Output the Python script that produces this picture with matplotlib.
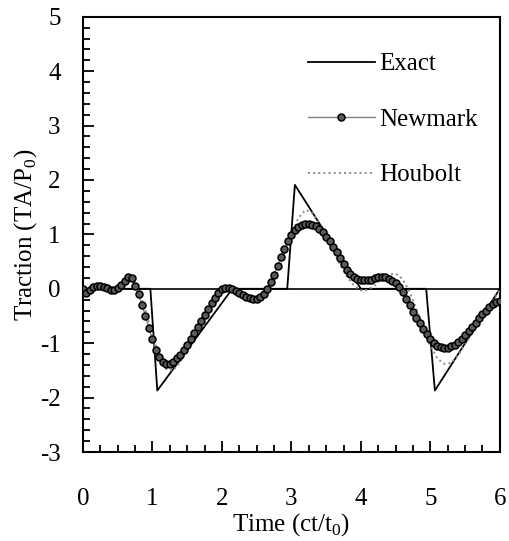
import numpy as np
import matplotlib
matplotlib.use("Agg")
import matplotlib.pyplot as plt
from matplotlib.ticker import MultipleLocator

plt.rcParams['font.family'] = ['Liberation Serif', 'DejaVu Serif']
plt.rcParams['mathtext.fontset'] = 'custom'
plt.rcParams['mathtext.rm'] = 'Liberation Serif'
plt.rcParams['axes.unicode_minus'] = False

# exact solution (corner points)
t_exact = [0, 0.97, 1.07, 2.15, 2.94, 3.05, 4.0, 4.94, 5.065, 6.0]
y_exact = [0, 0, -1.87, 0, 0, 1.91, 0, 0, -1.87, 0]

# Newmark, every 0.05
t_newmark = np.round(np.arange(0, 6.0001, 0.05), 2)
y_newmark = [
    0.00, -0.08, -0.03, 0.03, 0.06, 0.06, 0.04, 0.01, -0.02, -0.02,
    0.01, 0.07, 0.15, 0.21, 0.19, 0.06, -0.10, -0.30, -0.50, -0.72,
    -0.93, -1.12, -1.26, -1.35, -1.39, -1.38, -1.34, -1.28, -1.21, -1.12,
    -1.03, -0.92, -0.82, -0.71, -0.60, -0.49, -0.38, -0.27, -0.17, -0.08,
    -0.01, 0.02, 0.02, 0.00, -0.04, -0.08, -0.12, -0.15, -0.17, -0.18,
    -0.18, -0.15, -0.09, 0.00, 0.12, 0.26, 0.42, 0.58, 0.74, 0.88,
    0.99, 1.08, 1.14, 1.18, 1.20, 1.20, 1.18, 1.15, 1.10, 1.04,
    0.96, 0.87, 0.77, 0.67, 0.56, 0.45, 0.35, 0.27, 0.21, 0.18,
    0.16, 0.16, 0.16, 0.17, 0.19, 0.21, 0.22, 0.21, 0.18, 0.14,
    0.10, 0.03, -0.06, -0.18, -0.30, -0.42, -0.53, -0.63, -0.74, -0.84,
    -0.93, -1.00, -1.05, -1.07, -1.08, -1.08, -1.06, -1.03, -0.98, -0.92,
    -0.85, -0.78, -0.70, -0.62, -0.54, -0.47, -0.40, -0.34, -0.28, -0.24,
    -0.22,
]

# Houbolt, every 0.1
t_houbolt = np.round(np.arange(0, 6.0001, 0.1), 1)
y_houbolt = [
    0.00, -0.04, 0.05, 0.04, -0.02, 0.00, 0.12, 0.16, -0.02, -0.40,
    -0.85, -1.25, -1.48, -1.50, -1.35, -1.12, -0.88, -0.64, -0.40, -0.18,
    0.00, 0.07, 0.02, -0.10, -0.20, -0.24, -0.18, 0.00, 0.30, 0.65,
    1.00, 1.30, 1.45, 1.40, 1.20, 0.95, 0.70, 0.45, 0.22, 0.06,
    -0.03, -0.02, 0.06, 0.18, 0.26, 0.28, 0.18, -0.05, -0.38, -0.72,
    -1.05, -1.28, -1.38, -1.36, -1.22, -1.02, -0.82, -0.62, -0.42, -0.22,
    -0.02,
]

fig = plt.figure(figsize=(5.09, 5.41), dpi=100)
ax = fig.add_axes([0.163, 0.1645, 0.819, 0.8045])

ax.axhline(0, color='black', lw=1.2, zorder=1)
ax.plot(t_exact, y_exact, color='black', lw=1.3, label='Exact', zorder=2)
ax.plot(t_newmark, y_newmark, color='#808080', lw=1.0, marker='o', ms=5,
        mfc='#5a5a5a', mec='black', mew=1.1, label='Newmark', zorder=4)
ax.plot(t_houbolt, y_houbolt, color='#8c8c8c', lw=1.4, ls=':', label='Houbolt', zorder=3)

ax.set_xlim(0, 6)
ax.set_ylim(-3, 5)
ax.xaxis.set_major_locator(MultipleLocator(1))
ax.xaxis.set_minor_locator(MultipleLocator(0.25))
ax.yaxis.set_major_locator(MultipleLocator(1))
ax.yaxis.set_minor_locator(MultipleLocator(0.2))
ax.tick_params(which='both', direction='in', top=False, right=False, width=1.3)
ax.tick_params(which='major', length=8, labelsize=18)
ax.tick_params(axis='x', which='major', pad=26)
ax.tick_params(axis='y', which='major', pad=16)
ax.tick_params(which='minor', length=5)
for s in ax.spines.values():
    s.set_linewidth(1.5)

ax.set_xlabel('Time (ct/t$_0$)', fontsize=18, labelpad=1)
ax.set_ylabel('Traction (TA/P$_0$)', fontsize=18, labelpad=0.5)

ax.legend(loc='upper left', bbox_to_anchor=(0.515, 0.94), frameon=False, fontsize=18,
          handlelength=2.7, handletextpad=0.15, labelspacing=1.32, borderaxespad=0)

fig.savefig('out.png', dpi=100)
